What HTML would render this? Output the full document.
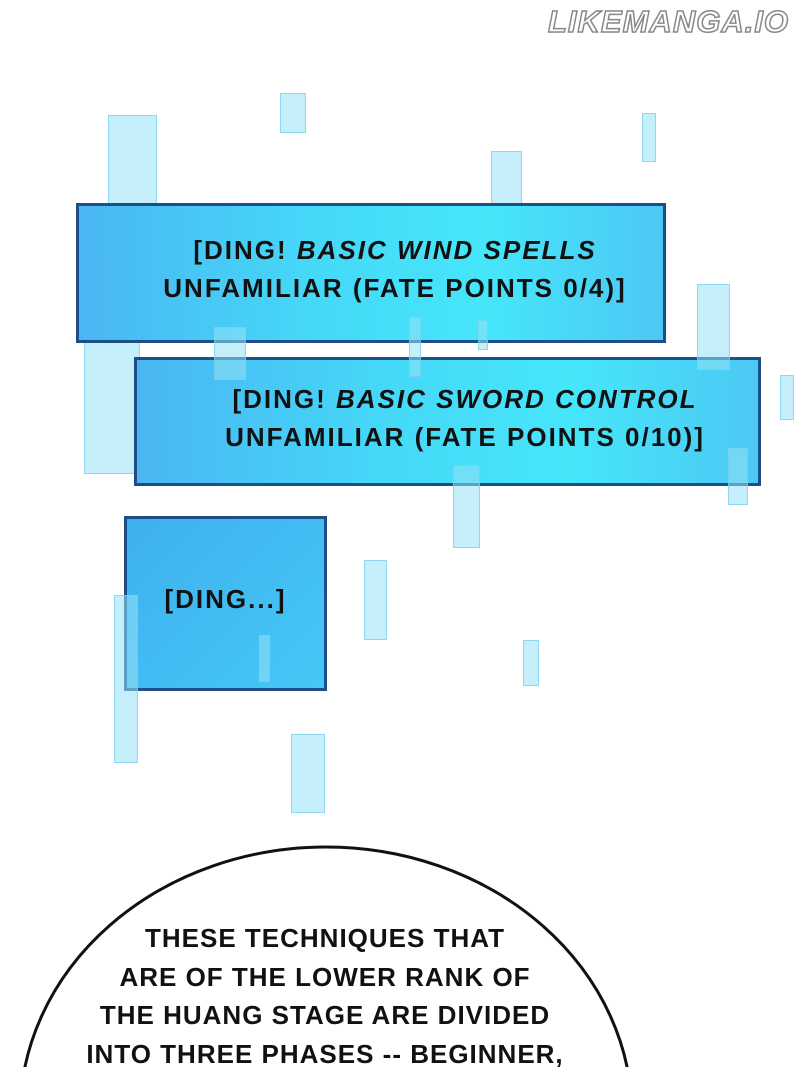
<!DOCTYPE html>
<html><head><style>
html,body{margin:0;width:800px;height:1067px;overflow:hidden}
body{background:#fff;position:relative;font-family:"Liberation Sans",sans-serif}
.r{position:absolute;background:rgba(150,225,245,.55);border:1px solid rgba(120,205,235,.7);box-sizing:border-box}
.b{position:absolute;box-sizing:border-box;border:3px solid #1d4f86;background:linear-gradient(90deg,#4ab6f2 0%,#45d8f8 40%,#46e6fa 70%,#4cc8f4 100%);}
.t{position:absolute;color:#111;font-size:26px;font-weight:bold;text-align:center;line-height:38px;white-space:nowrap;letter-spacing:2px}
.w{position:absolute;left:548px;top:4px;font-size:31px;font-weight:bold;font-style:italic;color:#fff;-webkit-text-stroke:1.5px #888;letter-spacing:1px}
.bt{position:absolute;left:20px;width:610px;text-align:center;font-size:26px;font-weight:bold;line-height:38.5px;color:#111;top:919px;letter-spacing:1px;white-space:nowrap}
</style></head><body>
<div class="w">LIKEMANGA.IO</div>
<div class="r" style="left:280px;top:93px;width:26px;height:40px"></div>
<div class="r" style="left:108px;top:115px;width:49px;height:110px"></div>
<div class="r" style="left:642px;top:113px;width:14px;height:49px"></div>
<div class="r" style="left:491px;top:151px;width:31px;height:69px"></div>
<div class="r" style="left:84px;top:342px;width:56px;height:132px"></div>
<div class="b" style="left:76px;top:203px;width:590px;height:140px"></div>
<div class="b" style="left:134px;top:357px;width:627px;height:129px"></div>
<div class="b" style="left:124px;top:516px;width:203px;height:175px;background:linear-gradient(135deg,#3fb0ee,#45c8f6)"></div>
<div class="r" style="left:697px;top:284px;width:33px;height:86px"></div>
<div class="r" style="left:780px;top:375px;width:14px;height:45px"></div>
<div class="r" style="left:728px;top:448px;width:20px;height:57px"></div>
<div class="r" style="left:453px;top:465px;width:27px;height:83px"></div>
<div class="r" style="left:364px;top:560px;width:23px;height:80px"></div>
<div class="r" style="left:114px;top:595px;width:24px;height:168px"></div>
<div class="r" style="left:523px;top:640px;width:16px;height:46px"></div>
<div class="r" style="left:291px;top:734px;width:34px;height:79px"></div>
<div class="r" style="left:409px;top:317px;width:12px;height:60px"></div>
<div class="r" style="left:214px;top:327px;width:32px;height:53px"></div>
<div class="r" style="left:478px;top:320px;width:10px;height:30px"></div>
<div class="r" style="left:259px;top:635px;width:11px;height:47px"></div>
<div class="t" style="left:100px;width:590px;top:231px">[DING! <i>BASIC WIND SPELLS</i><br>UNFAMILIAR (FATE POINTS 0/4)]</div>
<div class="t" style="left:160px;width:610px;top:380px">[DING! <i>BASIC SWORD CONTROL</i><br>UNFAMILIAR (FATE POINTS 0/10)]</div>
<div class="t" style="left:124px;width:203px;top:580px">[DING...]</div>
<svg style="position:absolute;left:0;top:0" width="800" height="1067"><ellipse cx="326" cy="1115" rx="306" ry="268" fill="#fff" stroke="#111" stroke-width="3"/></svg>
<div class="bt">THESE TECHNIQUES THAT<br>ARE OF THE LOWER RANK OF<br>THE HUANG STAGE ARE DIVIDED<br>INTO THREE PHASES -- BEGINNER,</div>
</body></html>
